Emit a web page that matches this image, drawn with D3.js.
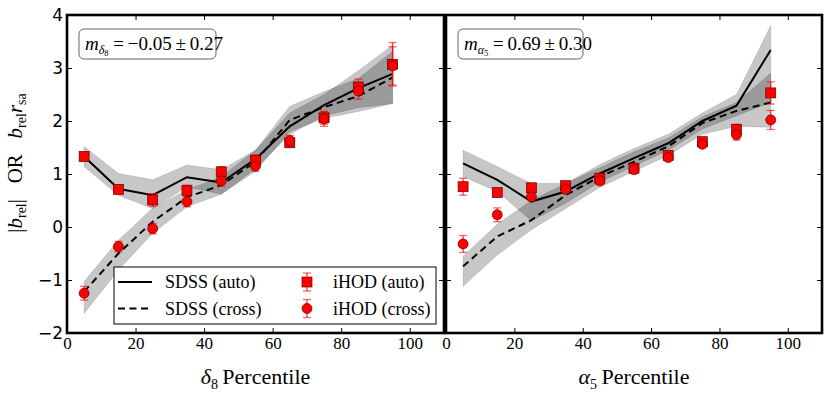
<!DOCTYPE html>
<html><head><meta charset="utf-8">
<script src="https://cdn.jsdelivr.net/npm/d3@7"></script>
<style>body{margin:0;background:#fff}svg{display:block}</style>
</head><body>
<svg id="c" width="830" height="397"></svg>
<script>
const percentiles = [5,15,25,35,45,55,65,75,85,95];
const xTicks = [0,20,40,60,80,100];
const yTicks = [-2,-1,0,1,2,3,4];

// Left panel: delta_8
const d8AutoLine  = [1.33,0.72,0.60,0.94,0.84,1.28,1.90,2.30,2.62,2.89];
const d8AutoLo    = [1.14,0.60,0.35,0.76,0.62,1.10,1.75,2.10,2.25,2.33];
const d8AutoHi    = [1.52,1.01,0.89,1.17,1.08,1.45,2.15,2.50,2.95,3.43];
const d8CrossLine = [-1.22,-0.50,0.10,0.56,0.79,1.23,2.02,2.26,2.47,2.82];
const d8CrossLo   = [-1.63,-0.81,-0.12,0.38,0.62,1.05,1.80,2.05,2.18,2.33];
const d8CrossHi   = [-1.03,-0.25,0.36,0.70,0.95,1.45,2.28,2.55,2.80,3.31];
const d8HodAuto   = [1.33,0.71,0.51,0.69,1.04,1.26,1.59,2.06,2.64,3.07];
const d8HodAutoErr= [0.08,0.06,0.12,0.10,0.10,0.10,0.08,0.12,0.15,0.41];
const d8HodCross  = [-1.25,-0.37,-0.03,0.48,0.87,1.15,1.63,2.04,2.57,3.04];
const d8HodCrossErr=[0.13,0.10,0.10,0.10,0.10,0.10,0.10,0.14,0.16,0.36];

// Right panel: alpha_5
const a5AutoLine  = [1.20,0.89,0.48,0.67,1.01,1.30,1.58,2.00,2.29,3.34];
const a5AutoLo    = [0.95,0.67,0.12,0.45,0.85,1.15,1.45,1.85,2.10,2.35];
const a5AutoHi    = [1.45,1.14,0.82,0.82,1.18,1.48,1.75,2.15,2.50,3.80];
const a5CrossLine = [-0.74,-0.18,0.13,0.60,0.95,1.23,1.52,1.96,2.19,2.35];
const a5CrossLo   = [-1.12,-0.53,-0.05,0.35,0.75,1.05,1.35,1.75,1.90,1.88];
const a5CrossHi   = [-0.55,0.05,0.50,0.82,1.12,1.42,1.68,2.08,2.35,2.90];
const a5HodAuto   = [0.76,0.65,0.74,0.78,0.92,1.11,1.35,1.61,1.84,2.53];
const a5HodAutoErr= [0.16,0.07,0.07,0.07,0.07,0.06,0.06,0.06,0.10,0.21];
const a5HodCross  = [-0.32,0.23,0.57,0.71,0.87,1.08,1.31,1.56,1.74,2.02];
const a5HodCrossErr=[0.16,0.13,0.07,0.07,0.07,0.06,0.06,0.06,0.10,0.18];

const svg = d3.select("#c");
const SERIF = "Liberation Serif";
const y = d3.scaleLinear().domain([-2,4]).range([333,15]);
const DASH = "7,4.5";

function serifText(sel){ return sel.attr("font-family",SERIF).style("font-family",SERIF); }

function panel(x0, x1, d, opts) {
  const x = d3.scaleLinear().domain([0,110]).range([x0,x1]);
  const g = svg.append("g");
  const band = (lo, hi) => g.append("path")
    .datum(percentiles.map((p,i)=>({p, lo:lo[i], hi:hi[i]})))
    .attr("d", d3.area().x(q=>x(q.p)).y0(q=>y(q.lo)).y1(q=>y(q.hi)))
    .attr("fill","#000").attr("fill-opacity",0.22)
    .attr("stroke","#000").attr("stroke-opacity",0.15).attr("stroke-width",0.8);
  band(d.autoLo, d.autoHi);
  band(d.crossLo, d.crossHi);
  const line = d3.line().x((v,i)=>x(percentiles[i])).y(v=>y(v));
  g.append("path").attr("d", line(d.autoLine)).attr("fill","none").attr("stroke","#000").attr("stroke-width",2);
  g.append("path").attr("d", line(d.crossLine)).attr("fill","none").attr("stroke","#000").attr("stroke-width",2).attr("stroke-dasharray",DASH);

  function errs(vals, err) {
    percentiles.forEach((p,i)=>{
      const cx = x(p), t = y(vals[i]+err[i]), b = y(vals[i]-err[i]);
      g.append("line").attr("x1",cx).attr("x2",cx).attr("y1",t).attr("y2",b).attr("stroke","#f00").attr("stroke-opacity",0.75).attr("stroke-width",1.3);
      [t,b].forEach(yy=>g.append("line").attr("x1",cx-4).attr("x2",cx+4).attr("y1",yy).attr("y2",yy).attr("stroke","#f00").attr("stroke-opacity",0.6).attr("stroke-width",1.3));
    });
  }
  errs(d.hodAuto, d.hodAutoErr);
  errs(d.hodCross, d.hodCrossErr);
  g.selectAll(null).data(d.hodAuto).enter().append("rect")
    .attr("x",(v,i)=>x(percentiles[i])-5).attr("y",v=>y(v)-5).attr("width",10).attr("height",10)
    .attr("fill","#f00").attr("stroke","#600").attr("stroke-width",0.7);
  g.selectAll(null).data(d.hodCross).enter().append("circle")
    .attr("cx",(v,i)=>x(percentiles[i])).attr("cy",v=>y(v)).attr("r",5)
    .attr("fill","#f00").attr("stroke","#600").attr("stroke-width",0.7);

  const ab = g.append("g").attr("transform","translate(0,333)")
    .call(d3.axisBottom(x).tickValues(xTicks).tickSizeInner(-5).tickSizeOuter(0).tickPadding(4));
  serifText(ab).attr("font-size",17);
  serifText(ab.selectAll("text")).attr("font-size",17).attr("fill","#000");
  g.append("g").attr("transform","translate(0,15)")
    .call(d3.axisTop(x).tickValues(xTicks).tickSizeInner(-5).tickSizeOuter(0).tickFormat(""));
  const al = g.append("g").attr("transform",`translate(${x0},0)`)
    .call(d3.axisLeft(y).tickValues(yTicks).tickSizeInner(-5).tickSizeOuter(0).tickPadding(4).tickFormat(opts.yLabels ? d3.format("d") : ""));
  al.attr("font-family","DejaVu Sans").attr("font-size",17);
  al.selectAll("text").attr("fill","#000");
  g.append("g").attr("transform",`translate(${x1},0)`)
    .call(d3.axisRight(y).tickValues(yTicks).tickSizeInner(-5).tickSizeOuter(0).tickFormat(""));
  g.selectAll(".domain").remove();
  g.selectAll(".tick line").attr("stroke","#000").attr("stroke-width",1);

  g.append("rect").attr("x",x0).attr("y",15).attr("width",x1-x0).attr("height",318)
    .attr("fill","none").attr("stroke","#000").attr("stroke-width",2.6);

  const bx = x0 + 12, by = 29;
  g.append("rect").attr("x",bx).attr("y",by).attr("width",opts.boxW).attr("height",30).attr("rx",5)
    .attr("fill","#fff").attr("stroke","#666").attr("stroke-width",1);
  const t = serifText(g.append("text")).attr("x",bx+6).attr("y",by+21).attr("font-size",19).attr("fill","#000");
  t.append("tspan").attr("font-style","italic").text("m");
  t.append("tspan").attr("font-style","italic").attr("font-size",12).attr("dy",4).text(opts.sym);
  t.append("tspan").attr("font-size",8.5).attr("dy",2).text(opts.sub);
  t.append("tspan").attr("dy",-6).text("\u00a0=\u2009" + opts.val);

  const xl = serifText(g.append("text")).attr("x",(x0+x1)/2).attr("y",384).attr("text-anchor","middle")
    .attr("font-size",22).attr("fill","#000");
  xl.append("tspan").attr("font-style","italic").text(opts.sym);
  xl.append("tspan").attr("font-size",14).attr("dy",5).text(opts.sub);
  xl.append("tspan").attr("dy",-5).text("\u2009Percentile");
  return x;
}

panel(67, 444, {autoLine:d8AutoLine, autoLo:d8AutoLo, autoHi:d8AutoHi, crossLine:d8CrossLine, crossLo:d8CrossLo, crossHi:d8CrossHi,
  hodAuto:d8HodAuto, hodAutoErr:d8HodAutoErr, hodCross:d8HodCross, hodCrossErr:d8HodCrossErr},
  {yLabels:true, boxW:137, sym:"δ", sub:"8", val:"−0.05\u2009±\u20090.27"});
panel(446, 822, {autoLine:a5AutoLine, autoLo:a5AutoLo, autoHi:a5AutoHi, crossLine:a5CrossLine, crossLo:a5CrossLo, crossHi:a5CrossHi,
  hodAuto:a5HodAuto, hodAutoErr:a5HodAutoErr, hodCross:a5HodCross, hodCrossErr:a5HodCrossErr},
  {yLabels:false, boxW:125, sym:"α", sub:"5", val:"0.69\u2009±\u20090.30"});

const yl = serifText(svg.append("text")).attr("transform","translate(22,163) rotate(-90)").attr("text-anchor","middle")
  .attr("font-size",21).attr("fill","#000");
yl.append("tspan").text("|");
yl.append("tspan").attr("font-style","italic").text("b");
yl.append("tspan").attr("font-size",14).attr("dy",4).text("rel");
yl.append("tspan").attr("dy",-4).text("|\u00a0\u00a0\u00a0OR\u00a0\u00a0\u00a0");
yl.append("tspan").attr("font-style","italic").text("b");
yl.append("tspan").attr("font-size",14).attr("dy",4).text("rel");
yl.append("tspan").attr("dy",-4).attr("font-style","italic").text("r");
yl.append("tspan").attr("font-size",14).attr("dy",4).text("sa");

const lg = svg.append("g");
lg.append("rect").attr("x",114).attr("y",267).attr("width",322).attr("height",57).attr("fill","#fff").attr("stroke","#000").attr("stroke-width",1);
const legItems = [
  {label:"SDSS (auto)", kind:"solid", col:0, row:0},
  {label:"SDSS (cross)", kind:"dash", col:0, row:1},
  {label:"iHOD (auto)", kind:"square", col:1, row:0},
  {label:"iHOD (cross)", kind:"circle", col:1, row:1}
];
legItems.forEach(it=>{
  const yy = 282 + it.row*26.5;
  if (it.col===0) {
    lg.append("line").attr("x1",118).attr("x2",152).attr("y1",yy).attr("y2",yy).attr("stroke","#000").attr("stroke-width",2)
      .attr("stroke-dasharray", it.kind==="dash" ? DASH : null);
    serifText(lg.append("text")).attr("x",165).attr("y",yy+6).attr("font-size",18).text(it.label);
  } else {
    const cx = 307;
    lg.append("line").attr("x1",cx).attr("x2",cx).attr("y1",yy-9).attr("y2",yy+9).attr("stroke","#f00").attr("stroke-opacity",0.75).attr("stroke-width",1.3);
    [yy-9,yy+9].forEach(v=>lg.append("line").attr("x1",cx-4).attr("x2",cx+4).attr("y1",v).attr("y2",v).attr("stroke","#f00").attr("stroke-opacity",0.6).attr("stroke-width",1.3));
    if (it.kind==="square") lg.append("rect").attr("x",cx-5).attr("y",yy-5).attr("width",10).attr("height",10).attr("fill","#f00").attr("stroke","#600").attr("stroke-width",0.7);
    else lg.append("circle").attr("cx",cx).attr("cy",yy).attr("r",5).attr("fill","#f00").attr("stroke","#600").attr("stroke-width",0.7);
    serifText(lg.append("text")).attr("x",333).attr("y",yy+6).attr("font-size",18).text(it.label);
  }
});
</script>
</body></html>
